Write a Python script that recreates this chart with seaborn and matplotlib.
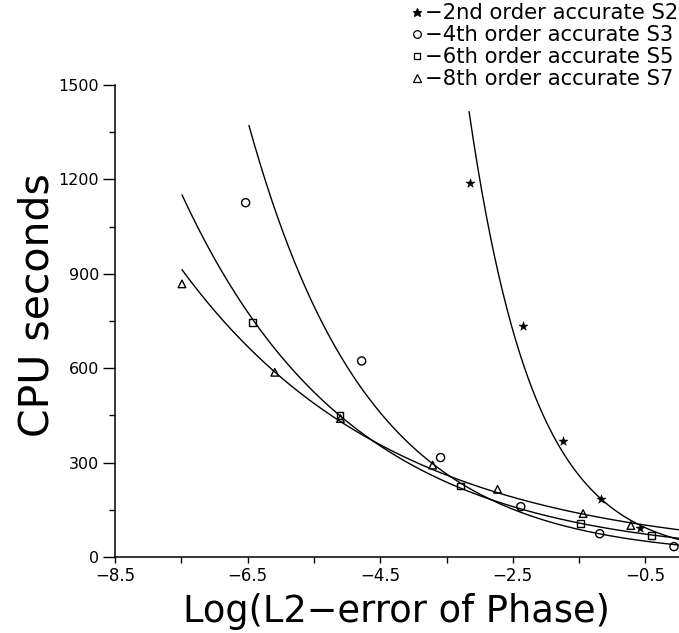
import numpy as np
import pandas as pd
import matplotlib
matplotlib.use("Agg")
import matplotlib.pyplot as plt
import seaborn as sns
from matplotlib.lines import Line2D

# ---------------- data ----------------
s2_x = [-3.15, -2.35, -1.75, -1.17, -0.58]
s2_y = [1190, 735, 369, 183, 91]
s3_x = [-6.53, -4.78, -3.59, -2.38, -1.19, -0.07]
s3_y = [1126, 623, 316, 160, 74, 33]
s5_x = [-6.43, -5.11, -3.29, -1.48, -0.41]
s5_y = [745, 450, 226, 107, 69]
s7_x = [-7.49, -6.09, -5.10, -3.71, -2.73, -1.44, -0.72]
s7_y = [868, 587, 440, 292, 215, 138, 100]

series_names = ["S2", "S3", "S5", "S7"]
series_labels = ["\u22122nd order accurate S2", "\u22124th order accurate S3",
                 "\u22126th order accurate S5", "\u22128th order accurate S7"]
fit_start = [-3.16, -6.48, -7.49, -7.49]   # where each fitted curve begins

x_ticks = [-8.5, -6.5, -4.5, -2.5, -0.5]
x_tick_labels = ["\u22128.5", "\u22126.5", "\u22124.5", "\u22122.5", "\u22120.5"]
x_minor = [-7.5, -5.5, -3.5, -1.5]
y_ticks = [0, 300, 600, 900, 1200, 1500]
y_tick_labels = ["0", "300", "600", "900", "1200", "1500"]
y_minor = [150, 450, 750, 1050, 1350]

# ---------------- figure ----------------
sns.set_theme(style="ticks")
plt.rcParams["font.family"] = ["DejaVu Sans"]
plt.rcParams["text.color"] = "black"

W, H = 679, 633
fig = plt.figure(figsize=(W / 100, H / 100), dpi=100)
ax_left, ax_right, ax_top, ax_bottom = 115, 678.6, 85, 557
ax = fig.add_axes([ax_left / W, 1 - ax_bottom / H,
                   (ax_right - ax_left) / W, (ax_bottom - ax_top) / H])

xs_all = [s2_x, s3_x, s5_x, s7_x]
ys_all = [s2_y, s3_y, s5_y, s7_y]
marker_styles = {
    "S2": dict(marker="*", s=45, facecolors="black", edgecolors="black", linewidths=0.4),
    "S3": dict(marker="o", s=34, facecolors="none", edgecolors="black", linewidths=1.0),
    "S5": dict(marker="s", s=22, facecolors="none", edgecolors="black", linewidths=1.0),
    "S7": dict(marker="^", s=30, facecolors="none", edgecolors="black", linewidths=1.0),
}

x_right = 0.0
for name, xv, yv, x0 in zip(series_names, xs_all, ys_all, fit_start):
    xv = np.asarray(xv, float)
    yv = np.asarray(yv, float)
    # exponential regression (linear fit of log CPU vs log error)
    coef = np.polyfit(xv, np.log(yv), 1)
    xf = np.linspace(x0, x_right, 300)
    yf = np.exp(np.polyval(coef, xf))
    sns.lineplot(x=xf, y=yf, ax=ax, color="black", linewidth=1.0,
                 estimator=None, sort=False)
    sns.scatterplot(x=xv, y=yv, ax=ax, zorder=3, legend=False,
                    **marker_styles[name])

ax.set_xlim(-8.5, x_right)
ax.set_ylim(0, 1500)
ax.set_xticks(x_ticks)
ax.set_xticklabels(x_tick_labels)
ax.set_xticks(x_minor, minor=True)
ax.set_yticks(y_ticks)
ax.set_yticklabels(y_tick_labels)
ax.set_yticks(y_minor, minor=True)

sns.despine(ax=ax)
for sp in ("left", "bottom"):
    ax.spines[sp].set_linewidth(1.1)
    ax.spines[sp].set_color("black")

ax.tick_params(axis="y", which="major", length=8.5, width=1.0, pad=3,
               labelsize=11.5, colors="black")
ax.tick_params(axis="y", which="minor", length=4.3, width=1.0, colors="black")
ax.tick_params(axis="x", which="both", length=4.3, width=1.0, colors="black")
ax.tick_params(axis="x", which="major", pad=3, labelsize=12, colors="black")

ax.set_xlabel("Log(L2\u2212error of Phase)", fontsize=26.5, color="black")
ax.xaxis.set_label_coords(0.5, -(611 - ax_bottom) / (ax_bottom - ax_top))
ax.xaxis.label.set_va("center")
ax.set_ylabel("CPU seconds", fontsize=29.5, color="black")
ax.yaxis.set_label_coords(-(ax_left - 38) / (ax_right - ax_left),
                          (ax_bottom - 305) / (ax_bottom - ax_top))
ax.yaxis.label.set_va("center")

# legend
handles = []
for name in series_names:
    st = marker_styles[name]
    handles.append(Line2D([], [], linestyle="none", marker=st["marker"],
                          markersize=np.sqrt(st["s"]) * 0.95,
                          markerfacecolor=st["facecolors"],
                          markeredgecolor="black", markeredgewidth=0.9))
fig.legend(handles, series_labels, loc="upper right",
           bbox_to_anchor=(1.0, 1.0 - 2 / H),
           frameon=False, fontsize=15.2, handlelength=0.5, handletextpad=0.1,
           labelspacing=0.1, borderaxespad=0.0, borderpad=0.05,
           labelcolor="black")

fig.savefig("out.png", dpi=100, facecolor="white")
